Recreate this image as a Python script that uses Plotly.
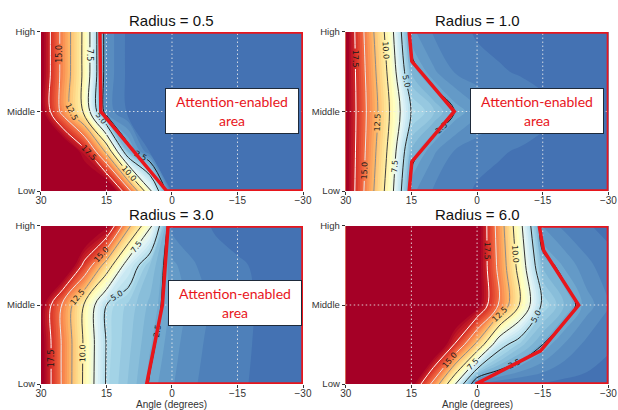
import plotly.graph_objects as go

# ---------------- data ----------------
angles = [30, 25, 20, 15, 10, 5, 0, -5, -10, -15, -20, -25, -30]
levels_y = [0, 0.5, 1, 1.5, 2]          # Low ... High
y_tick_vals = [0, 1, 2]
y_tick_text = ["Low", "Middle", "High"]
x_tick_vals = [30, 15, 0, -15, -30]
x_tick_text = ["30", "15", "0", "\u221215", "\u221230"]
radius_labels = ["0.5", "1.0", "3.0", "6.0"]
x_title = "Angle (degrees)"

# rows: Low, (Low+Middle), Middle, (Middle+High), High ; columns follow `angles`
z_r05 = [
    [22, 22, 22, 22, 15.8, 7.9, 0.5, 0.5, 0.5, 0.5, 0.5, 0.5, 0.5],
    [22, 22, 18.2, 11.9, 3.0, 0.5, 0.5, 0.5, 0.5, 0.5, 0.5, 0.5, 0.5],
    [20, 14.2, 9.4, 1.5, 0.5, 0.5, 0.5, 0.5, 0.5, 0.5, 0.5, 0.5, 0.5],
    [20, 14.2, 9.4, 1.5, 0.5, 0.5, 0.5, 0.5, 0.5, 0.5, 0.5, 0.5, 0.5],
    [20, 14.2, 9.4, 1.5, 0.5, 0.5, 0.5, 0.5, 0.5, 0.5, 0.5, 0.5, 0.5],
]
z_r10 = [
    [20, 14.0, 8.75, 1.8, 1.1, 0.8, 0.6, 0.5, 0.5, 0.5, 0.5, 0.5, 0.5],
    [20, 14.4, 9.4, 3.0, 1.75, 1.1, 0.8, 0.7, 0.6, 0.5, 0.5, 0.5, 0.5],
    [20, 14.7, 10.0, 4.9, 3.7, 2.45, 1.8, 1.3, 1.0, 0.8, 0.6, 0.5, 0.5],
    [20, 14.4, 9.4, 3.0, 1.75, 1.1, 0.8, 0.7, 0.6, 0.5, 0.5, 0.5, 0.5],
    [20, 14.0, 8.75, 1.8, 1.1, 0.8, 0.6, 0.5, 0.5, 0.5, 0.5, 0.5, 0.5],
]
z_r30 = [
    [20, 14.6, 9.5, 4.8, 3.6, 2.4, 1.7, 1.2, 0.9, 0.7, 0.6, 0.5, 0.5],
    [20, 14.6, 9.6, 4.9, 3.8, 2.7, 1.85, 1.3, 0.95, 0.75, 0.6, 0.5, 0.5],
    [20, 14.6, 9.7, 5.0, 4.0, 3.0, 2.0, 1.4, 1.0, 0.8, 0.6, 0.5, 0.5],
    [22, 22, 16.8, 11.35, 6.25, 3.6, 1.8, 1.2, 0.8, 0.7, 0.6, 0.5, 0.5],
    [22, 22, 22, 20, 13.0, 8.0, 1.0, 0.8, 0.6, 0.5, 0.5, 0.5, 0.5],
]
z_r60 = [
    [22, 22, 22, 20, 14.3, 7.6, 0.7, 0.7, 0.6, 0.6, 0.5, 0.5, 0.5],
    [22, 22, 22, 22, 22, 17.3, 11.9, 5.8, 3.85, 2.5, 1.6, 1.0, 0.7],
    [22, 22, 22, 22, 22, 22, 20, 14.8, 9.6, 4.6, 3.1, 1.9, 1.2],
    [22, 22, 22, 22, 22, 22, 20.2, 14.35, 8.75, 3.05, 2.05, 1.3, 0.85],
    [22, 22, 22, 22, 22, 22, 20.4, 13.9, 7.9, 1.5, 1.0, 0.7, 0.5],
]
z_all = [z_r05, z_r10, z_r30, z_r60]

# attention-enabled region outlines (angle, level)
region_x = [
    [16.5, 16.3, 1.2, -30, -30, 16.5],
    [15.5, 14.9, 5.2, 14.9, 15.5, -30, -30, 15.5],
    [0.9, 2.2, 5.8, -30, -30, 0.9],
    [-14.2, -15.2, -23.2, -14.5, 0.3, -30, -30, -14.2],
]
region_y = [
    [2, 1, 0, 0, 2, 2],
    [2, 1.63, 1, 0.37, 0, 0, 2, 2],
    [2, 1, 0, 0, 2, 2],
    [2, 1.69, 1, 0.42, 0, 0, 2, 2],
]
box_text = "Attention-enabled<br>area"
box_x = [-13.7, -13.6, -14.4]
box_y = [1.0, 1.0, 1.02]

# ---------------- styling ----------------
rdylbu_r = ['#313695', '#4575b4', '#74add1', '#abd9e9', '#e0f3f8', '#ffffbf',
            '#fee090', '#fdae61', '#f46d43', '#d73027', '#a50026']
fill_scale = [[i / 10, c] for i, c in enumerate(rdylbu_r)]
line_scale = [[0, '#1a1a1a'], [0.5, '#404040'], [0.667, '#8c8c8c'],
              [0.833, '#e8e8e8'], [1, '#ffffff']]
FONT = "Liberation Sans"
RED = "#e8161c"

x_dom = [[0.0663, 0.4903], [0.5594, 0.9845], [0.0663, 0.4903], [0.5594, 0.9845]]
y_dom = [[0.5341, 0.9220], [0.5341, 0.9220], [0.0634, 0.4488], [0.0634, 0.4488]]

fig = go.Figure()
layout = dict(width=618, height=410,
              margin=dict(l=0, r=0, t=0, b=0, pad=0, autoexpand=False),
              paper_bgcolor="white", plot_bgcolor="white", showlegend=False,
              font=dict(family=FONT, color="#222"))
annotations = []

for i in range(4):
    sx = "" if i == 0 else str(i + 1)
    xa, ya = "x" + sx, "y" + sx
    z = z_all[i]
    # filled contours (fine levels)
    fig.add_trace(go.Contour(
        x=angles, y=levels_y, z=z, xaxis=xa, yaxis=ya,
        colorscale=fill_scale, zmin=-1.6, zmax=19.4, autocontour=False,
        contours=dict(start=-1.35, end=19.15, size=0.5, coloring="fill"),
        line=dict(width=0), showscale=False, hoverinfo="skip"))
    # dotted grid
    gx, gy = [], []
    for v in x_tick_vals[1:-1]:
        gx += [v, v, None]
        gy += [y_tick_vals[0], y_tick_vals[-1], None]
    gx += [x_tick_vals[0], x_tick_vals[-1], None]
    gy += [y_tick_vals[1], y_tick_vals[1], None]
    fig.add_trace(go.Scatter(x=gx, y=gy, xaxis=xa, yaxis=ya, mode="lines",
                             line=dict(color="rgba(235,235,235,0.85)", width=1,
                                       dash="1.5px,2.5px"),
                             hoverinfo="skip"))
    # labelled contour lines
    fig.add_trace(go.Contour(
        x=angles, y=levels_y, z=z, xaxis=xa, yaxis=ya,
        colorscale=line_scale, autocontour=False,
        contours=dict(start=2.5, end=17.5, size=2.5, coloring="lines",
                      showlabels=True, labelformat=".1f",
                      labelfont=dict(size=8, color="#1a1a1a", family="DejaVu Sans")),
        line=dict(width=1), showscale=False, hoverinfo="skip"))
    # region outline
    fig.add_trace(go.Scatter(x=region_x[i], y=region_y[i], xaxis=xa, yaxis=ya,
                             mode="lines", line=dict(color=RED, width=3.5),
                             hoverinfo="skip"))

    layout["xaxis" + sx] = dict(
        domain=x_dom[i], anchor=ya, range=[30, -30], tickvals=x_tick_vals,
        ticktext=x_tick_text, ticks="outside", ticklen=3, tickcolor="#333",
        ticklabelstandoff=-3, ticklabeloverflow="allow",
        tickfont=dict(size=10, color="#333"), showgrid=False, zeroline=False,
        showline=False, automargin=False)
    layout["yaxis" + sx] = dict(
        domain=y_dom[i], anchor=xa, range=[0, 2], tickvals=y_tick_vals,
        ticktext=y_tick_text, ticks="outside", ticklen=3, tickcolor="#333",
        ticklabeloverflow="allow",
        tickfont=dict(size=9.5, color="#333"), showgrid=False, zeroline=False,
        showline=False, automargin=False)

    cx = (x_dom[i][0] + x_dom[i][1]) / 2
    annotations.append(dict(
        text="Radius = " + radius_labels[i], xref="paper", yref="paper",
        x=cx, y=y_dom[i][1] + 0.027,
        xanchor="center", yanchor="middle", showarrow=False,
        font=dict(size=15, color="#111", family=FONT)))
    if i >= 2:
        annotations.append(dict(
            text=x_title, xref="paper", yref="paper", x=cx, y=0.0125,
            xanchor="center", yanchor="middle", showarrow=False,
            font=dict(size=10, color="#333", family=FONT)))
    if i < 3:
        annotations.append(dict(
            text=box_text, xref=xa, yref=ya, x=box_x[i], y=box_y[i],
            showarrow=False, bgcolor="white", bordercolor="#1e2a3a", borderwidth=1,
            borderpad=2, width=128, height=40,
            font=dict(size=14, color=RED, family="Lato")))

layout["annotations"] = annotations
fig.update_layout(**layout)
fig.write_html("out.html", config={"displayModeBar": False},
               post_script="document.body.style.margin='0';document.body.style.padding='0';")
